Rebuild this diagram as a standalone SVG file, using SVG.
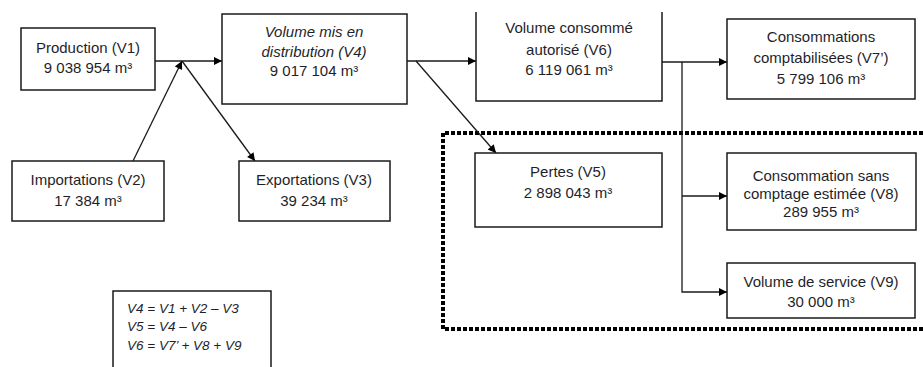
<svg xmlns="http://www.w3.org/2000/svg" width="923" height="367" viewBox="0 0 923 367">
<style>
.box{fill:#fff;stroke:#1a1a1a;stroke-width:1.5}
.t{font-family:"Liberation Sans",Arial,sans-serif;font-size:15px;fill:#1f1f2a;text-anchor:middle}
.i{font-style:italic}
.f{font-family:"Liberation Sans",Arial,sans-serif;font-size:13.5px;font-style:italic;fill:#1f1f2a}
.c{fill:none;stroke:#1a1a1a;stroke-width:1.3}
.dot{fill:none;stroke:#000;stroke-width:4;stroke-dasharray:4 2}
</style>
<defs>
<marker id="ah" viewBox="0 0 10 10" refX="10" refY="5" markerWidth="9" markerHeight="8" markerUnits="userSpaceOnUse" orient="auto">
<path d="M0,0 L10,5 L0,10 z" fill="#000"/>
</marker>
</defs>
<rect width="923" height="367" fill="#fff"/>
<path class="dot" d="M923,133 H443 V329 H923"/>
<g id="connectors">
<line class="c" x1="155" y1="61" x2="222" y2="61" marker-end="url(#ah)"/>
<line class="c" x1="133" y1="161" x2="182" y2="61" marker-end="url(#ah)"/>
<line class="c" x1="182" y1="61" x2="255" y2="161" marker-end="url(#ah)"/>
<line class="c" x1="407" y1="61" x2="476" y2="61" marker-end="url(#ah)"/>
<line class="c" x1="416" y1="61" x2="496" y2="153" marker-end="url(#ah)"/>
<line class="c" x1="662" y1="62" x2="727" y2="62" marker-end="url(#ah)"/>
<path class="c" d="M682,62 V292 H727" marker-end="url(#ah)"/>
<line class="c" x1="682" y1="196" x2="727" y2="196" marker-end="url(#ah)"/>
</g>
<g id="v1"><rect class="box" x="21" y="28" width="134" height="62"/>
<text class="t" x="88" y="53">Production (V1)</text><text class="t" x="88" y="73">9 038 954 m³</text></g>
<g id="v4"><rect class="box" x="222" y="14" width="185" height="90"/>
<text class="t i" x="314" y="37">Volume mis en</text><text class="t i" x="314" y="57">distribution (V4)</text><text class="t" x="314" y="76">9 017 104 m³</text></g>
<g id="v6"><path class="box" d="M476,12 V101 H662 V12"/>
<text class="t" x="569" y="33">Volume consommé</text><text class="t" x="569" y="55">autorisé (V6)</text><text class="t" x="569" y="75">6 119 061 m³</text></g>
<g id="v7"><rect class="box" x="727" y="19" width="188" height="80"/>
<text class="t" x="821" y="42">Consommations</text><text class="t" x="821" y="63">comptabilisées (V7’)</text><text class="t" x="821" y="84">5 799 106 m³</text></g>
<g id="v2"><rect class="box" x="12" y="161" width="152" height="60"/>
<text class="t" x="88" y="185">Importations (V2)</text><text class="t" x="88" y="206">17 384 m³</text></g>
<g id="v3"><rect class="box" x="239" y="161" width="151" height="60"/>
<text class="t" x="314" y="185">Exportations (V3)</text><text class="t" x="314" y="206">39 234 m³</text></g>
<g id="v5"><rect class="box" x="475" y="153" width="187" height="74"/>
<text class="t" x="568" y="177">Pertes (V5)</text><text class="t" x="568" y="198">2 898 043 m³</text></g>
<g id="v8"><rect class="box" x="727" y="153" width="189" height="77"/>
<text class="t" x="821" y="181">Consommation sans</text><text class="t" x="821" y="199">comptage estimée (V8)</text><text class="t" x="821" y="217">289 955 m³</text></g>
<g id="v9"><rect class="box" x="727" y="263" width="188" height="55"/>
<text class="t" x="821" y="287">Volume de service (V9)</text><text class="t" x="821" y="307">30 000 m³</text></g>
<g id="formulas"><rect class="box" x="113" y="291" width="158" height="80"/>
<text class="f" x="127" y="313">V4 = V1 + V2 – V3</text>
<text class="f" x="127" y="331">V5 = V4 – V6</text>
<text class="f" x="127" y="350">V6 = V7’ + V8 + V9</text></g>
</svg>
